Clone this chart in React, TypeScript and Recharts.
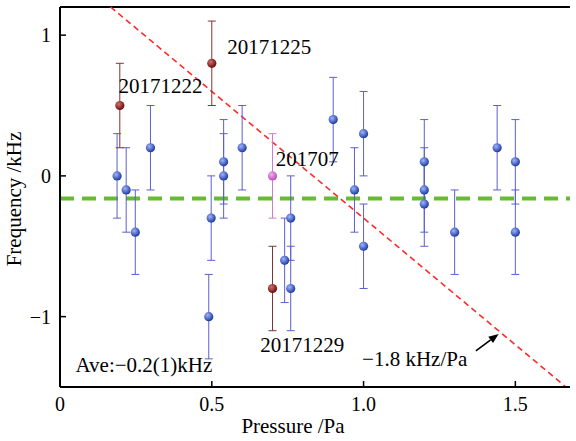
import {
  ScatterChart, Scatter, XAxis, YAxis, ErrorBar, ReferenceLine, ReferenceDot,
} from 'recharts';

// blue points (regular runs)
const bluePressure = [0.188, 0.218, 0.248, 0.298, 0.49, 0.498, 0.539, 0.539, 0.6, 0.74, 0.76, 0.76, 0.9, 0.97, 1.0, 1.0, 1.2, 1.2, 1.2, 1.3, 1.44, 1.5, 1.5];
const blueFreq     = [0, -0.1, -0.4, 0.2, -1.0, -0.3, 0, 0.1, 0.2, -0.6, -0.3, -0.8, 0.4, -0.1, 0.3, -0.5, 0.1, -0.1, -0.2, -0.4, 0.2, 0.1, -0.4];
const blueErr      = [0.3, 0.3, 0.3, 0.3, 0.3, 0.3, 0.3, 0.3, 0.3, 0.3, 0.3, 0.3, 0.3, 0.3, 0.3, 0.3, 0.3, 0.3, 0.3, 0.3, 0.3, 0.3, 0.3];

// dated runs (dark red)
const redPressure = [0.197, 0.5, 0.7];
const redFreq     = [0.5, 0.8, -0.8];
const redErr      = [0.3, 0.3, 0.3];

// 201707 run (magenta)
const pinkPressure = [0.7];
const pinkFreq     = [0];
const pinkErr      = [0.3];

const average = -0.16;
const fitSlope = -1.8;
const fitIntercept = 1.5;

const xTicks = [0, 0.5, 1, 1.5];
const yTicks = [-1, 0, 1];
const xDomain = [0, 1.68];
const yDomain = [-1.5, 1.2];

const noteText = ['20171225', '20171222', '201707', '20171229', '\u22121.8 kHz/Pa', 'Ave:\u22120.2(1)kHz'];
const noteX    = [0.551, 0.193, 0.711, 0.66, 0.995, 0.051];
const noteY    = [0.867, 0.589, 0.069, -1.25, -1.35, -1.39];

const arrowTail = { x: 1.37, y: -1.243 };
const arrowHead = { x: 1.445, y: -1.123 };

const FONT = '"Liberation Serif", "Times New Roman", serif';

const toRows = (p: number[], f: number[], e: number[]) => p.map((v, i) => ({ p: v, f: f[i], e: e[i] }));
const blueData = toRows(bluePressure, blueFreq, blueErr);
const redData = toRows(redPressure, redFreq, redErr);
const pinkData = toRows(pinkPressure, pinkFreq, pinkErr);

function ball(id: string, light: string, dark: string) {
  // eslint-disable-next-line @typescript-eslint/no-explicit-any
  return (props: any) => {
    const { cx, cy } = props;
    if (cx == null || cy == null) return null;
    return (
      <g>
        <defs>
          <radialGradient id={id} cx="0.38" cy="0.35" r="0.65">
            <stop offset="0%" stopColor={light} />
            <stop offset="100%" stopColor={dark} />
          </radialGradient>
        </defs>
        <circle cx={cx} cy={cy} r={4.6} fill={`url(#${id})`} />
      </g>
    );
  };
}

// eslint-disable-next-line @typescript-eslint/no-explicit-any
function Arrow(props: any) {
  const { x1, y1, x2, y2 } = props;
  const a = Math.atan2(y2 - y1, x2 - x1);
  const L = 10, W = 4;
  const bx = x2 - L * Math.cos(a), by = y2 - L * Math.sin(a);
  const px = -Math.sin(a) * W, py = Math.cos(a) * W;
  return (
    <g>
      <line x1={x1} y1={y1} x2={bx} y2={by} stroke="#000" strokeWidth={1.6} />
      <polygon points={`${x2},${y2} ${bx + px},${by + py} ${bx - px},${by - py}`} fill="#000" />
    </g>
  );
}

export default function App() {
  return (
    <div style={{ position: 'absolute', left: 0, top: 0, width: 576, height: 441, background: '#fff' }}>
      <ScatterChart width={576} height={441} margin={{ top: 7, right: 6, bottom: 0, left: 0 }}>
        <XAxis
          type="number"
          dataKey="p"
          domain={xDomain}
          ticks={xTicks}
          allowDataOverflow
          tickFormatter={(v: number) => (v === 0 ? '0' : v.toFixed(1))}
          tick={{ fill: '#000', fontSize: 20, fontFamily: FONT }}
          axisLine={{ stroke: '#000', strokeWidth: 2 }}
          tickLine={{ stroke: '#000', strokeWidth: 1.5 }}
          tickSize={-6}
          tickMargin={16}
          height={54}
          label={{
            value: 'Pressure /Pa', position: 'insideBottom', offset: 8, dx: -22,
            style: { fill: '#000', fontSize: 21, fontFamily: FONT },
          }}
        />
        <YAxis
          type="number"
          dataKey="f"
          domain={yDomain}
          ticks={yTicks}
          allowDataOverflow
          tickFormatter={(v: number) => (v < 0 ? '\u2212' + Math.abs(v) : String(v))}
          tick={{ fill: '#000', fontSize: 20, fontFamily: FONT }}
          axisLine={{ stroke: '#000', strokeWidth: 2 }}
          tickLine={{ stroke: '#000', strokeWidth: 1.5 }}
          tickSize={-6}
          tickMargin={15}
          width={60}
          label={{
            // eslint-disable-next-line @typescript-eslint/no-explicit-any
            content: (props: any) => {
              const vb = props.viewBox;
              const cy = vb.y + vb.height / 2 + 2;
              return (
                <text x={21} y={cy} transform={`rotate(-90, 21, ${cy})`} textAnchor="middle"
                  fill="#000" fontSize={21} fontFamily={FONT}>
                  Frequency /kHz
                </text>
              );
            },
          }}
        />

        <ReferenceLine y={yDomain[1]} stroke="#000" strokeWidth={2} />
        <ReferenceLine y={average} stroke="#66bb33" strokeWidth={4} strokeDasharray="14 8" />
        <ReferenceLine
          segment={[
            { x: (fitIntercept - yDomain[1]) / -fitSlope, y: yDomain[1] },
            { x: (fitIntercept - yDomain[0]) / -fitSlope, y: yDomain[0] },
          ]}
          stroke="#ff2a2a"
          strokeWidth={1.6}
          strokeDasharray="6 4"
        />
        <ReferenceLine segment={[arrowTail, arrowHead]} shape={Arrow} />

        <Scatter data={blueData} shape={ball('gBlue', '#9fb4ff', '#1d3a9e')} isAnimationActive={false}>
          <ErrorBar dataKey="e" direction="y" width={4} stroke="#5b5fcf" strokeWidth={1} />
        </Scatter>
        <Scatter data={redData} shape={ball('gRed', '#d07070', '#6a0c0c')} isAnimationActive={false}>
          <ErrorBar dataKey="e" direction="y" width={4} stroke="#7c3434" strokeWidth={1} />
        </Scatter>
        <Scatter data={pinkData} shape={ball('gPink', '#f0b0f0', '#b850b8')} isAnimationActive={false}>
          <ErrorBar dataKey="e" direction="y" width={4} stroke="#cf7ccf" strokeWidth={1} />
        </Scatter>

        {noteText.map((t, i) => (
          <ReferenceDot
            key={t}
            x={noteX[i]}
            y={noteY[i]}
            r={0}
            fill="none"
            stroke="none"
            label={{
              // eslint-disable-next-line @typescript-eslint/no-explicit-any
              content: (props: any) => (
                <text x={props.viewBox.x} y={props.viewBox.y} fill="#000" fontSize={21} fontFamily={FONT}>
                  {t}
                </text>
              ),
            }}
          />
        ))}
      </ScatterChart>
    </div>
  );
}
